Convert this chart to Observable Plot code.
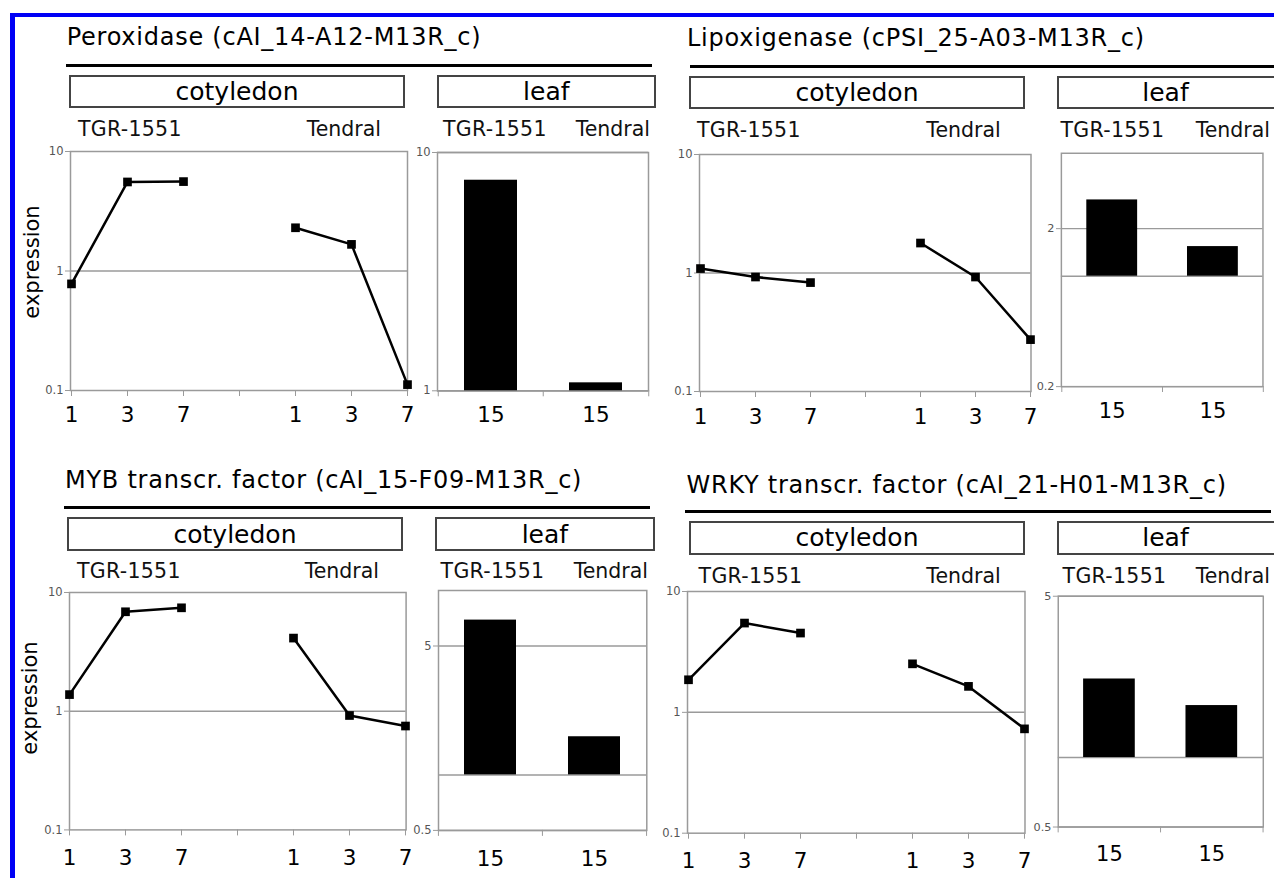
<!DOCTYPE html>
<html>
<head>
<meta charset="utf-8">
<script src="https://cdn.jsdelivr.net/npm/d3@7"></script>
<script src="https://cdn.jsdelivr.net/npm/@observablehq/plot@0.6"></script>
<style>
  html, body { margin: 0; padding: 0; background: #fff; }
  #page { position: relative; width: 1274px; height: 878px; overflow: hidden; background: #fff;
          font-family: "DejaVu Sans", sans-serif; color: #000; }
  .abs { position: absolute; }
  .txt { position: absolute; white-space: nowrap; line-height: 1; }
  .rule { position: absolute; height: 3px; background: #000; }
  .box { position: absolute; box-sizing: border-box; border: 2px solid #444; background: #fff; }
  .blue { position: absolute; background: #0000f5; }
</style>
</head>
<body>
<div id="page"></div>
<script>
// ---------------- data ----------------
const geneTitles = [
  "Peroxidase (cAI_14-A12-M13R_c)",
  "Lipoxigenase (cPSI_25-A03-M13R_c)",
  "MYB transcr. factor (cAI_15-F09-M13R_c)",
  "WRKY transcr. factor (cAI_21-H01-M13R_c)"
];
const tissues = ["cotyledon", "leaf"];
const cultivars = ["TGR-1551", "Tendral"];
const cotyledonDays = ["1", "3", "7"];
const leafDays = ["15", "15"];

// cotyledon expression (days 1, 3, 7)
const peroxidaseCotTGR = [0.78, 5.56, 5.6];
const peroxidaseCotTendral = [2.30, 1.67, 0.112];
const lipoxigenaseCotTGR = [1.09, 0.925, 0.83];
const lipoxigenaseCotTendral = [1.79, 0.925, 0.274];
const mybCotTGR = [1.38, 6.88, 7.43];
const mybCotTendral = [4.13, 0.92, 0.75];
const wrkyCotTGR = [1.86, 5.48, 4.53];
const wrkyCotTendral = [2.52, 1.64, 0.73];

// leaf expression (day 15): [TGR-1551, Tendral]
const peroxidaseLeaf = [7.65, 1.08];
const lipoxigenaseLeaf = [3.04, 1.54];
const mybLeaf = [6.91, 1.61];
const wrkyLeaf = [2.19, 1.68];

// axes
const cotDomain = [0.1, 10];
const cotTicks = [0.1, 1, 10];
const peroxidaseLeafDomain = [1, 10], peroxidaseLeafTicks = [1, 10];
const lipoxigenaseLeafDomain = [0.2, 6], lipoxigenaseLeafTicks = [0.2, 2];
const mybLeafDomain = [0.5, 10], mybLeafTicks = [0.5, 5];
const wrkyLeafDomain = [0.5, 5], wrkyLeafTicks = [0.5, 5];
const baseline = 1;

const cotSeries = [
  [peroxidaseCotTGR, peroxidaseCotTendral],
  [lipoxigenaseCotTGR, lipoxigenaseCotTendral],
  [mybCotTGR, mybCotTendral],
  [wrkyCotTGR, wrkyCotTendral]
];
const leafSeries = [peroxidaseLeaf, lipoxigenaseLeaf, mybLeaf, wrkyLeaf];
const leafDomains = [peroxidaseLeafDomain, lipoxigenaseLeafDomain, mybLeafDomain, wrkyLeafDomain];
const leafTicks = [peroxidaseLeafTicks, lipoxigenaseLeafTicks, mybLeafTicks, wrkyLeafTicks];

// ---------------- layout (pixel positions of each panel) ----------------
const layout = [
  { title: [66.7, 45], rule: [65.7, 651.7, 63.5], cotBox: [69, 75, 336, 33], leafBox: [436.7, 75, 219.3, 33],
    labelBase: 136.7, cotTGRx: 78, cotTenR: 381, leafTGRx: 443, leafTenR: 650,
    cotFrame: [70, 151, 337, 239], leafFrame: [437, 151.7, 211, 238.3], xGap: 31.7, yTitle: [32, 262] },
  { title: [687, 46.5], rule: [690, 1290, 65], cotBox: [689, 76, 336, 33], leafBox: [1056.5, 76, 240, 33],
    labelBase: 137.5, cotTGRx: 697, cotTenR: 1000.7, leafTGRx: 1060.5, leafTenR: 1270,
    cotFrame: [698.5, 154, 331.5, 237], leafFrame: [1061.8, 153, 206.2, 238.7], xGap: 32, yTitle: null },
  { title: [65, 488.5], rule: [64, 650, 506], cotBox: [67, 517.4, 336, 33.2], leafBox: [434.8, 517.4, 220.2, 33.2],
    labelBase: 578, cotTGRx: 77, cotTenR: 379, leafTGRx: 440.6, leafTenR: 648,
    cotFrame: [69.4, 592, 336.6, 237.4], leafFrame: [437.7, 589.5, 208.3, 239.9], xGap: 35.6, yTitle: [30, 698] },
  { title: [686.5, 493], rule: [685, 1271, 509.5], cotBox: [689, 521, 336, 33.6], leafBox: [1056.5, 521, 240, 33.6],
    labelBase: 583, cotTGRx: 698.6, cotTenR: 1000.7, leafTGRx: 1062.6, leafTenR: 1270,
    cotFrame: [686.5, 591, 337.5, 241.7], leafFrame: [1058.5, 596, 210.3, 236.7], xGap: 35.3, yTitle: null }
];

const page = document.getElementById("page");
const ASC = 0.846; // DejaVu Sans baseline offset for line-height:1
const xLabelSize = 21.5;

function addText(str, x, base, fs, anchor = "start", extra = {}) {
  const d = document.createElement("div");
  d.className = "txt";
  d.textContent = str;
  d.style.fontSize = fs + "px";
  d.style.left = x + "px";
  d.style.top = (base - ASC * fs) + "px";
  if (anchor === "end") d.style.transform = "translateX(-100%)";
  if (anchor === "middle") d.style.transform = "translateX(-50%)";
  Object.assign(d.style, extra);
  page.appendChild(d);
  return d;
}
function addDiv(cls, x, y, w, h) {
  const d = document.createElement("div");
  d.className = cls;
  d.style.left = x + "px"; d.style.top = y + "px";
  d.style.width = w + "px"; if (h != null) d.style.height = h + "px";
  page.appendChild(d);
  return d;
}

// blue border
addDiv("blue", 10, 12.7, 1270, 4);
addDiv("blue", 10, 12.7, 5, 870);

const gridColor = "#9a9a9a";
const tickTextColor = "#555";
const plotStyle = "font-family:'DejaVu Sans',sans-serif;background:transparent;overflow:visible;";

function placePlot(svg, x, y, z) {
  const wrap = document.createElement("div");
  wrap.className = "abs";
  wrap.style.left = x + "px"; wrap.style.top = y + "px";
  wrap.style.zIndex = z;
  wrap.appendChild(svg);
  page.appendChild(wrap);
}

// y tick labels drawn as text marks anchored to the frame's left edge
function yTickLabels(ticks) {
  return Plot.text(ticks, { y: d => d, text: d => String(d), frameAnchor: "left", dx: -7,
    textAnchor: "end", fontSize: 11.5, fill: tickTextColor });
}

layout.forEach((L, i) => {
  // header
  addText(geneTitles[i], L.title[0], L.title[1], 24, "start", { letterSpacing: "0.75px" });
  addDiv("rule", L.rule[0], L.rule[2], L.rule[1] - L.rule[0]);
  addDiv("box", L.cotBox[0], L.cotBox[1], L.cotBox[2], L.cotBox[3]);
  addDiv("box", L.leafBox[0], L.leafBox[1], L.leafBox[2], L.leafBox[3]);
  addText(tissues[0], L.cotBox[0] + L.cotBox[2] / 2, L.cotBox[1] + 25.5, 25, "middle");
  addText(tissues[1], L.leafBox[0] + (i % 2 === 1 ? 218 : L.leafBox[2]) / 2, L.leafBox[1] + 25.5, 25, "middle");
  addText(cultivars[0], L.cotTGRx, L.labelBase, 20.5, "start", { color: "#111", letterSpacing: "0.3px" });
  addText(cultivars[1], L.cotTenR, L.labelBase, 20.5, "end", { color: "#111" });
  addText(cultivars[0], L.leafTGRx, L.labelBase, 20.5, "start", { color: "#111", letterSpacing: "0.3px" });
  addText(cultivars[1], L.leafTenR, L.labelBase, 20.5, "end", { color: "#111" });
  if (L.yTitle) {
    const t = addText("expression", L.yTitle[0], L.yTitle[1], 21, "start");
    t.style.top = L.yTitle[1] + "px";
    t.style.transformOrigin = "0 0";
    t.style.transform = "rotate(-90deg) translate(-50%, -50%)";
  }

  // ---- cotyledon line chart ----
  const cotData = [];
  cultivars.forEach((c, ci) => cotyledonDays.forEach((d, di) =>
    cotData.push({ cultivar: c, key: c + "|" + d, value: cotSeries[i][ci][di] })));
  const xDomain = [...cotyledonDays.map(d => cultivars[0] + "|" + d), "gap", ...cotyledonDays.map(d => cultivars[1] + "|" + d)];
  const [fx, fy, fw, fh] = L.cotFrame;
  const mL = 50, mR = 12, mT = 10, mB = 50;
  const cot = Plot.plot({
    width: fw + mL + mR, height: fh + mT + mB,
    marginLeft: mL, marginRight: mR, marginTop: mT, marginBottom: mB,
    style: plotStyle,
    x: { type: "point", domain: xDomain, padding: 0, axis: null, label: null },
    y: { type: "log", domain: cotDomain, axis: null, label: null },
    marks: [
      Plot.ruleY([baseline], { stroke: gridColor, strokeWidth: 1.5 }),
      Plot.frame({ stroke: gridColor, strokeWidth: 1.5 }),
      Plot.axisY(cotTicks, { label: null, tickSize: 5, stroke: gridColor, tickFormat: () => "" }),
      yTickLabels(cotTicks),
      Plot.axisX({ label: null, tickSize: 6, tickPadding: L.xGap - 6 - 0.71 * xLabelSize, fontSize: xLabelSize,
        stroke: gridColor, fill: "#000", tickFormat: k => k === "gap" ? "" : k.split("|")[1] }),
      Plot.line(cotData, { x: "key", y: "value", z: "cultivar", stroke: "#000", strokeWidth: 2.5 }),
      Plot.dot(cotData, { x: "key", y: "value", symbol: "square", r: 4.9, fill: "#000", stroke: "none" })
    ]
  });
  placePlot(cot, fx - mL, fy - mT, 1);

  // ---- leaf bar chart ----
  const leafData = cultivars.map((c, ci) => ({ cultivar: c, day: leafDays[ci], value: leafSeries[i][ci] }));
  const [gx, gy, gw, gh] = L.leafFrame;
  const step = gw / 2;
  const grid = leafTicks[i].concat([baseline]);
  const leaf = Plot.plot({
    width: gw + mL + mR, height: gh + mT + mB,
    marginLeft: mL, marginRight: mR, marginTop: mT, marginBottom: mB,
    style: plotStyle,
    x: { type: "band", domain: cultivars, paddingInner: 0.5, paddingOuter: 0.25, axis: null, label: null },
    y: { type: "log", domain: leafDomains[i], axis: null, label: null },
    marks: [
      Plot.ruleY(grid, { stroke: gridColor, strokeWidth: 1.5 }),
      Plot.frame({ stroke: gridColor, strokeWidth: 1.5 }),
      Plot.axisY(leafTicks[i], { label: null, tickSize: 5, stroke: gridColor, tickFormat: () => "" }),
      yTickLabels(leafTicks[i]),
      Plot.axisX({ label: null, tickSize: 0, tickPadding: L.xGap - 0.71 * xLabelSize, fontSize: xLabelSize, fill: "#000",
        tickFormat: c => leafDays[cultivars.indexOf(c)] }),
      Plot.axisX({ label: null, tickSize: 6, stroke: gridColor, tickFormat: () => "", dx: -step / 2 }),
      Plot.axisX([cultivars[1]], { label: null, tickSize: 6, stroke: gridColor, tickFormat: () => "", dx: step / 2 }),
      Plot.barY(leafData, { x: "cultivar", y1: baseline, y2: "value", fill: "#000" })
    ]
  });
  placePlot(leaf, gx - mL, gy - mT, 2);
});
</script>
</body>
</html>
